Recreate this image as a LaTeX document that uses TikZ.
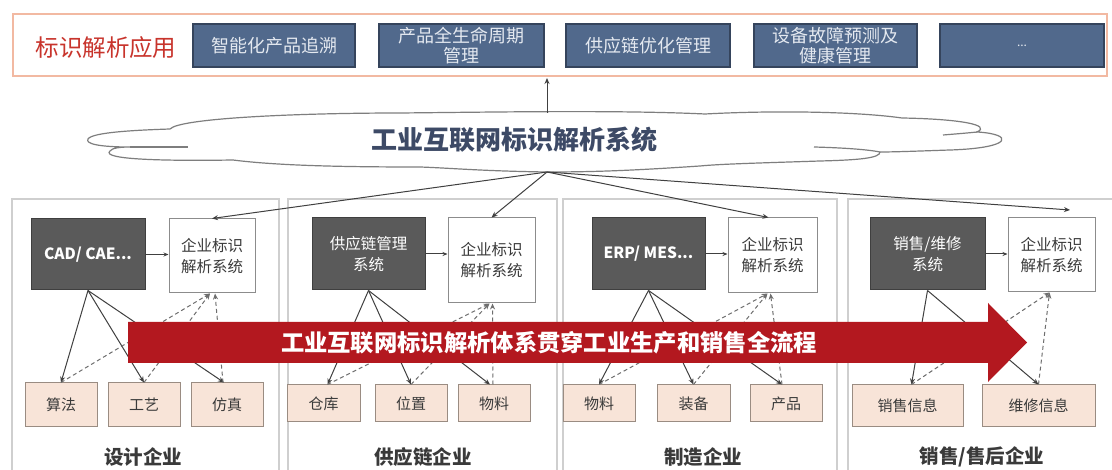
\documentclass[tikz,border=0pt]{standalone}
\usepackage{fontspec}
\setmainfont{Noto Sans CJK SC}
\usetikzlibrary{arrows.meta}
\definecolor{barborder}{HTML}{F2B9A2}
\definecolor{titlered}{HTML}{C8342C}
\definecolor{appblue}{HTML}{51698C}
\definecolor{appborder}{HTML}{35445C}
\definecolor{apptext}{HTML}{E4E9F0}
\definecolor{cloudline}{HTML}{7E7E7E}
\definecolor{cloudtext}{HTML}{3D4A66}
\definecolor{panelgray}{HTML}{CFCFCF}
\definecolor{sysgray}{HTML}{5A5A5A}
\definecolor{sysborder}{HTML}{3F3F3F}
\definecolor{entborder}{HTML}{8C8C8C}
\definecolor{txtdark}{HTML}{3A3A3A}
\definecolor{itemfill}{HTML}{F8E4D8}
\definecolor{itemborder}{HTML}{9A8C82}
\definecolor{linkgray}{HTML}{404040}
\definecolor{dashgray}{HTML}{6E6E6E}
\definecolor{bigred}{HTML}{B3181F}
\begin{document}
\begin{tikzpicture}[x=1pt,y=-1pt,
  appbox/.style={draw=appborder, fill=appblue, text=apptext, minimum height=43pt,
    inner sep=0pt, align=center, line width=1.2pt, font=\fontsize{18}{19.5}\selectfont},
  sysbox/.style={draw=sysborder, fill=sysgray, text=white, inner sep=0pt, align=center,
    line width=1pt, font=\fontsize{15.5}{21}\selectfont},
  entbox/.style={draw=entborder, fill=white, text=txtdark, inner sep=0pt, align=center,
    line width=1pt, font=\fontsize{15.5}{21}\selectfont},
  itembox/.style={draw=itemborder, fill=itemfill, text=txtdark, inner sep=0pt, align=center,
    line width=1pt, font=\fontsize{15}{17}\selectfont},
  panel/.style={draw=panelgray, line width=1.3pt},
  link/.style={draw=linkgray, line width=1pt, -{Stealth[length=6pt,width=5pt]}},
  dlink/.style={link, draw=dashgray, dash pattern=on 4pt off 3pt},
  catlabel/.style={font=\bfseries\fontsize{19.5}{22}\selectfont, text=txtdark},
]
\useasboundingbox (0,0) rectangle (1112,470);
\fill[white] (0,0) rectangle (1112,470);

% ---------- top application bar ----------
\draw[draw=barborder, line width=1.3pt] (13,14) rectangle (1107,76);
\node[text=titlered, font=\fontsize{23.5}{26}\selectfont] (apptitle) at (106,48) {标识解析应用};
\node[appbox, minimum width=162pt] (app1) at (274,45.5) {智能化产品追溯};
\node[appbox, minimum width=165pt] (app2) at (461.5,45.5) {产品全生命周期\\管理};
\node[appbox, minimum width=164pt] (app3) at (648,45.5) {供应链优化管理};
\node[appbox, minimum width=163pt] (app4) at (835.5,45.5) {设备故障预测及\\健康管理};
\node[appbox, minimum width=164pt] (app5) at (1022,45.5) {\fontsize{12}{12}\selectfont ...};

% ---------- cloud ----------
\filldraw[fill=white, draw=cloudline, line width=1.2pt]
  (88,139) .. controls (92,132) and (140,130) .. (170,129)
  .. controls (180,118) and (300,113) .. (400,113)
  .. controls (500,112) and (620,110) .. (705,114)
  .. controls (780,110) and (860,112) .. (902,118)
  .. controls (960,119) and (992,125) .. (977,132)
  .. controls (1014,134) and (1014,148) .. (950,150)
  .. controls (920,151) and (895,152) .. (880,152)
  .. controls (880,158) and (860,160) .. (820,161)
  .. controls (760,163) and (720,164) .. (700,166)
  .. controls (640,170) and (600,172) .. (547,172)
  .. controls (480,171) and (450,168) .. (420,167)
  .. controls (350,167) and (280,166) .. (233,160)
  .. controls (170,161) and (100,160) .. (110,151)
  .. controls (112,148) and (120,147) .. (130,147)
  .. controls (100,147) and (85,144) .. (88,139) -- cycle;
\draw[draw=cloudline, line width=1.2pt] (130,147) -- (188,147);
\draw[draw=cloudline, line width=1.2pt] (814,147) .. controls (850,148) and (870,150) .. (880,152);
\draw[draw=cloudline, line width=1.2pt] (943,135) .. controls (955,134) and (968,133) .. (977,132);
\node[text=cloudtext, font=\bfseries\fontsize{26}{28}\selectfont] (cloudtitle) at (514,140) {工业互联网标识解析系统};
\coordinate (hub) at (547,172);
\coordinate (cloudtop) at (547,113);
\coordinate (barbottom) at (547,78);
\draw[link] (cloudtop) -- (barbottom);

% ---------- panels ----------
\draw[panel] (12,471) -- (12,199) -- (279,199) -- (279,471);
\draw[panel] (288,471) -- (288,199) -- (557,199) -- (557,471);
\draw[panel] (563,471) -- (563,199) -- (837,199) -- (837,471);
\draw[panel] (848,471) -- (848,199) -- (1114,199);

% panel 1
\node[sysbox, minimum width=114pt, minimum height=71pt, font=\bfseries\fontsize{15.5}{20}\selectfont] (sys1) at (88,254.5) {CAD/ CAE...};
\node[entbox, minimum width=86pt, minimum height=74pt] (ent1) at (212,256) {企业标识\\解析系统};
\node[itembox, minimum width=72pt, minimum height=44pt] (it11) at (61,405) {算法};
\node[itembox, minimum width=72pt, minimum height=44pt] (it12) at (144,405) {工艺};
\node[itembox, minimum width=72pt, minimum height=44pt] (it13) at (227,405) {仿真};
\node[catlabel] (cat1) at (143,457) {设计企业};

% panel 2
\node[sysbox, minimum width=113pt, minimum height=72pt] (sys2) at (368.5,254) {供应链管理\\系统};
\node[entbox, minimum width=87pt, minimum height=85pt] (ent2) at (491.5,260.5) {企业标识\\解析系统};
\node[itembox, minimum width=73pt, minimum height=37pt] (it21) at (323.5,403.5) {仓库};
\node[itembox, minimum width=72pt, minimum height=37pt] (it22) at (411,403.5) {位置};
\node[itembox, minimum width=72pt, minimum height=37pt] (it23) at (494,403.5) {物料};
\node[catlabel] (cat2) at (423,457) {供应链企业};

% panel 3
\node[sysbox, minimum width=113pt, minimum height=72pt, font=\bfseries\fontsize{15.5}{20}\selectfont] (sys3) at (648.5,254) {ERP/ MES...};
\node[entbox, minimum width=89pt, minimum height=75pt] (ent3) at (772.5,255.5) {企业标识\\解析系统};
\node[itembox, minimum width=72pt, minimum height=37pt] (it31) at (599,403.5) {物料};
\node[itembox, minimum width=73pt, minimum height=37pt] (it32) at (693.5,403.5) {装备};
\node[itembox, minimum width=72pt, minimum height=37pt] (it33) at (786,403.5) {产品};
\node[catlabel] (cat3) at (703,457) {制造企业};

% panel 4
\node[sysbox, minimum width=115pt, minimum height=72pt] (sys4) at (927.5,254) {销售/维修\\系统};
\node[entbox, minimum width=87pt, minimum height=74pt] (ent4) at (1051.5,255) {企业标识\\解析系统};
\node[itembox, minimum width=111pt, minimum height=42pt] (it41) at (907.5,406) {销售信息};
\node[itembox, minimum width=113pt, minimum height=42pt] (it42) at (1038.5,406) {维修信息};
\node[catlabel] (cat4) at (982,457) {销售/售后企业};

% ---------- connectors from cloud ----------
\coordinate (free4) at (1070,210);
\draw[link] (hub) -- (ent1.north);
\draw[link] (hub) -- (ent2.north);
\draw[link] (hub) -- ([xshift=-4pt]ent3.north);
\draw[link] (hub) -- (free4);

% system -> enterprise resolution
\foreach \i in {1,2,3,4}{
  \draw[link, -{Stealth[length=5pt,width=4pt]}] (sys\i.east) -- (sys\i.east -| ent\i.west);
}

% solid links to items
\draw[link] (sys1.south) -- (it11.north);
\draw[link] (sys1.south) -- (it12.north);
\draw[link] (sys1.south) -- ([xshift=-3pt]it13.north);
\draw[link] (sys2.south) -- ([xshift=4pt]it21.north);
\draw[link] (sys2.south) -- (it22.north);
\draw[link] (sys2.south) -- ([xshift=-4pt]it23.north);
\draw[link] (sys3.south) -- (it31.north);
\draw[link] (sys3.south) -- (it32.north);
\draw[link] (sys3.south) -- ([xshift=-4pt]it33.north);
\draw[link] (sys4.south) -- ([xshift=4pt]it41.north);
\draw[link] (sys4.south) -- (it42.north);

% dashed links to enterprise resolution
\draw[dlink] (it11.north) -- ([xshift=-2pt]ent1.south);
\draw[dlink] (it12.north) -- ([xshift=-2pt]ent1.south);
\draw[dlink] ([xshift=-4pt]it13.north) -- ([xshift=3pt]ent1.south);
\draw[dlink] ([xshift=4pt]it21.north) -- ([xshift=-2pt]ent2.south);
\draw[dlink] (it22.north) -- ([xshift=-2pt]ent2.south);
\draw[dlink] ([xshift=-1pt]it23.north) -- ([xshift=1pt]ent2.south);
\draw[dlink] (it31.north) -- ([xshift=-5pt]ent3.south);
\draw[dlink] (it32.north) -- ([xshift=-5pt]ent3.south);
\draw[dlink] ([xshift=-4pt]it33.north) -- ([xshift=-2pt]ent3.south);
\draw[dlink] ([xshift=4pt]it41.north) -- ([xshift=-2pt]ent4.south);
\draw[dlink] (it42.north) -- ([xshift=-2pt]ent4.south);

% ---------- big red arrow ----------
\fill[bigred] (128,322) -- (988,322) -- (988,303) -- (1027,342.5) -- (988,382) -- (988,363) -- (128,363) -- cycle;
\node[text=white, font=\bfseries\fontsize{23.3}{26}\selectfont] (flowtext) at (549,342.5) {工业互联网标识解析体系贯穿工业生产和销售全流程};
\end{tikzpicture}
\end{document}
